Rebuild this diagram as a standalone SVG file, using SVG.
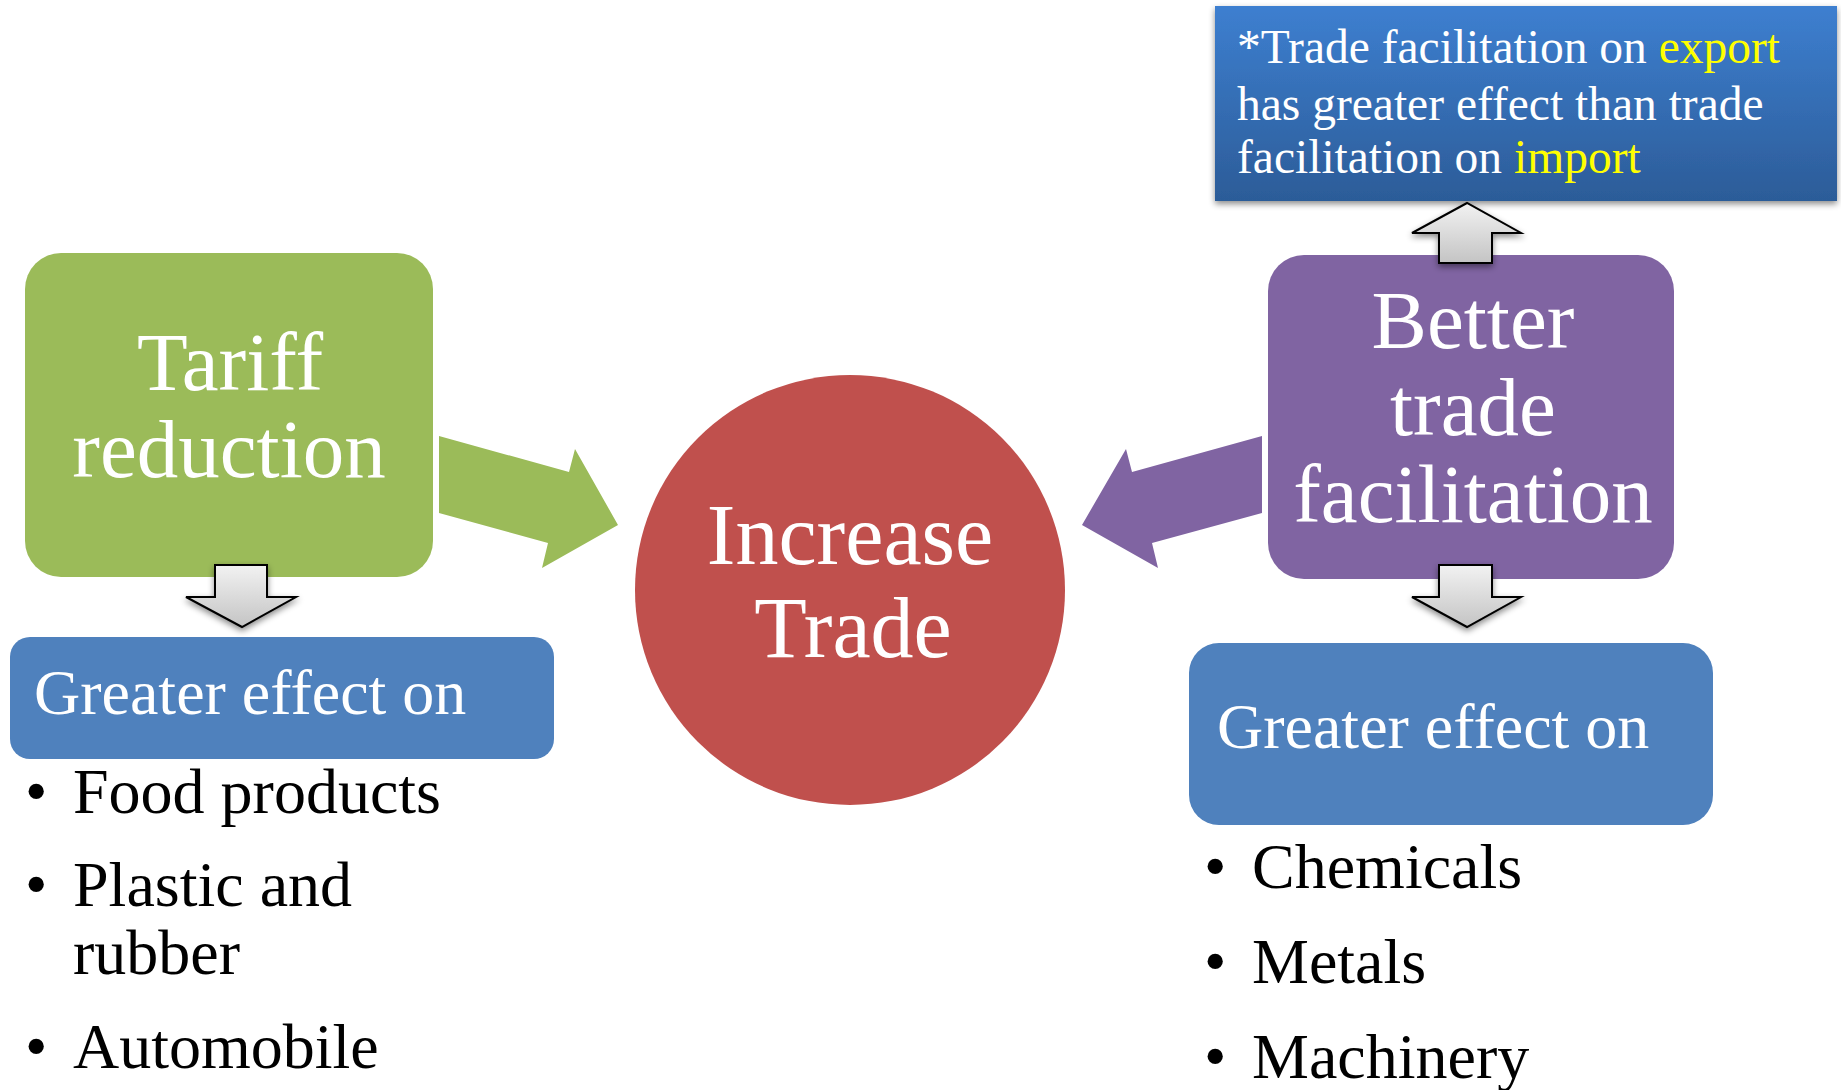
<svg xmlns="http://www.w3.org/2000/svg" width="1841" height="1090" viewBox="0 0 1841 1090">
<style>
.t{font-family:"Liberation Serif","Times New Roman",serif;}
.w{fill:#FFFFFF;}
.k{fill:#000000;}
.y{fill:#FFFF00;}
.big{font-size:83px;text-anchor:middle;}
.mid{font-size:64px;}
.note{font-size:47.5px;}
.gray{fill:url(#grayGrad);stroke:#000000;stroke-width:2;stroke-linejoin:miter;filter:url(#shadow);}
</style>
<defs>
<linearGradient id="noteGrad" x1="0" y1="0" x2="0" y2="1">
<stop offset="0" stop-color="#3D7FD0"/>
<stop offset="1" stop-color="#2C5C98"/>
</linearGradient>
<linearGradient id="grayGrad" x1="0" y1="0" x2="0" y2="1">
<stop offset="0" stop-color="#F2F2F2"/>
<stop offset="1" stop-color="#C4C4C4"/>
</linearGradient>
<filter id="shadow" x="-20%" y="-20%" width="140%" height="150%">
<feDropShadow dx="0" dy="3" stdDeviation="3" flood-color="#000000" flood-opacity="0.45"/>
</filter>
</defs>

<g id="node-tariff">
<rect x="25" y="253" width="408" height="324" rx="36" fill="#9BBB59"/>
<text class="t w big" x="230" y="390">Tariff</text>
<text class="t w big" x="229" y="477">reduction</text>
</g>

<g id="node-increase">
<circle cx="850" cy="590" r="215" fill="#C0504D"/>
<text class="t w" font-size="86" text-anchor="middle" x="850" y="564">Increase</text>
<text class="t w" font-size="86" text-anchor="middle" x="853" y="657">Trade</text>
</g>

<g id="node-facilitation">
<rect x="1268" y="255" width="406" height="324" rx="36" fill="#8064A2"/>
<text class="t w big" x="1473" y="348">Better</text>
<text class="t w big" x="1473" y="435">trade</text>
<text class="t w big" x="1473" y="522">facilitation</text>
</g>

<g id="node-note">
<rect x="1215" y="6" width="622" height="195" fill="url(#noteGrad)" filter="url(#shadow)"/>
<text class="t note w" x="1237" y="63">*Trade facilitation on <tspan class="y">export</tspan></text>
<text class="t note w" x="1237" y="120">has greater effect than trade</text>
<text class="t note w" x="1237" y="173">facilitation on <tspan class="y">import</tspan></text>
</g>

<g id="node-left-effect">
<rect x="10" y="637" width="544" height="122" rx="20" fill="#4F81BD"/>
<text class="t mid w" x="34" y="714">Greater effect on</text>
</g>

<g id="node-left-list">
<text class="t mid k" x="25" y="813">•</text>
<text class="t mid k" x="73" y="813">Food products</text>
<text class="t mid k" x="25" y="906">•</text>
<text class="t mid k" x="73" y="906">Plastic and</text>
<text class="t mid k" x="73" y="974">rubber</text>
<text class="t mid k" x="25" y="1068">•</text>
<text class="t mid k" x="73" y="1068">Automobile</text>
</g>

<g id="node-right-effect">
<rect x="1189" y="643" width="524" height="182" rx="30" fill="#4F81BD"/>
<text class="t mid w" x="1217" y="748">Greater effect on</text>
</g>

<g id="node-right-list">
<text class="t mid k" x="1204" y="888">•</text>
<text class="t mid k" x="1252" y="888">Chemicals</text>
<text class="t mid k" x="1204" y="983">•</text>
<text class="t mid k" x="1252" y="983">Metals</text>
<text class="t mid k" x="1204" y="1078">•</text>
<text class="t mid k" x="1252" y="1078">Machinery</text>
</g>

<g id="connectors">
<polygon fill="#9BBB59" points="439,436 569,472 575,449 618,525 542,568 548,543 439,513"/>
<polygon fill="#8064A2" points="1262,436 1132,472 1126,449 1082,525 1158,568 1152,543 1262,513"/>
<polygon class="gray" points="215,565 267,565 267,597 296,597 242,627 186,597 215,597"/>
<polygon class="gray" points="1439,565 1492,565 1492,597 1521,597 1467,627 1412,597 1439,597"/>
<polygon class="gray" points="1439,263 1492,263 1492,233 1521,233 1467,203 1412,233 1439,233"/>
</g>
</svg>
